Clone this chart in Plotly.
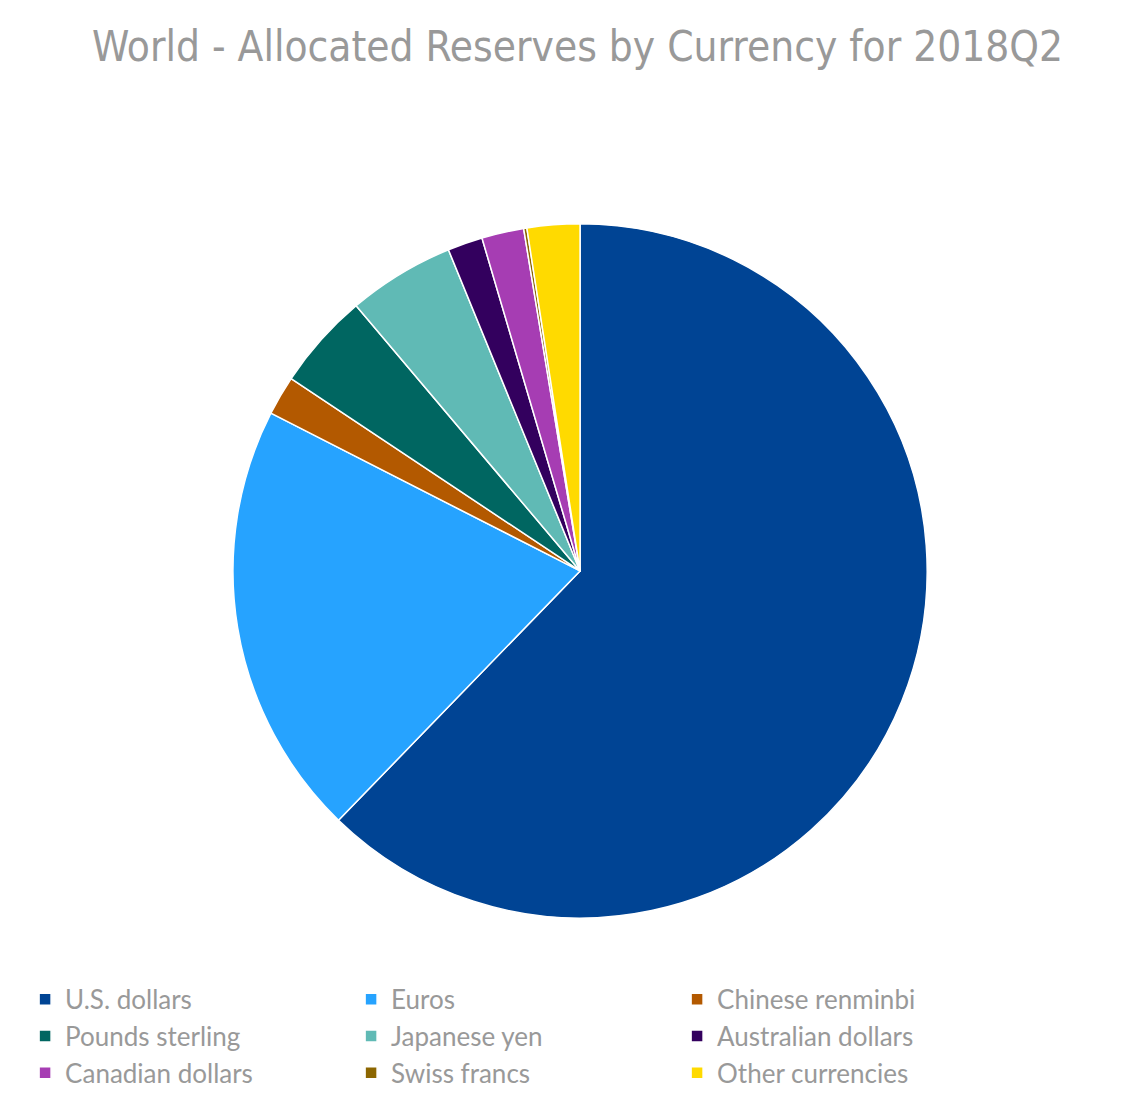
import plotly.graph_objects as go

labels = ["U.S. dollars", "Euros", "Chinese renminbi", "Pounds sterling", "Japanese yen",
          "Australian dollars", "Canadian dollars", "Swiss francs", "Other currencies"]
values = [62.25, 20.26, 1.84, 4.49, 4.97, 1.63, 1.96, 0.15, 2.45]
colors = ["#004494", "#26a3ff", "#b35900", "#006661", "#60bab5",
          "#33005e", "#a63db3", "#8c6600", "#ffda00"]

fig = go.Figure(go.Pie(
    labels=labels, values=values, sort=False, direction="clockwise", rotation=0,
    marker=dict(colors=colors, line=dict(color="white", width=1.5)),
    textinfo="none", hoverinfo="label+percent",
    domain=dict(x=[0.1975, 0.807], y=[0.177, 0.805]),
))
fig.update_layout(
    width=1139, height=1106, paper_bgcolor="white",
    margin=dict(l=0, r=0, t=0, b=0),
    title=dict(text="World - Allocated Reserves by Currency for 2018Q2",
               x=0.5, xanchor="center", y=0.965, yanchor="middle",
               font=dict(family="DejaVu Sans Condensed, Liberation Sans Narrow, sans-serif",
                         size=42, color="#999999")),
    legend=dict(orientation="h", x=0.015, xanchor="left", y=0.125, yanchor="top",
                entrywidth=281, entrywidthmode="pixels", traceorder="normal",
                font=dict(family="Lato, sans-serif", size=26, color="#999999"),
                itemwidth=30, tracegroupgap=0),
)
fig.write_html("out.html")
